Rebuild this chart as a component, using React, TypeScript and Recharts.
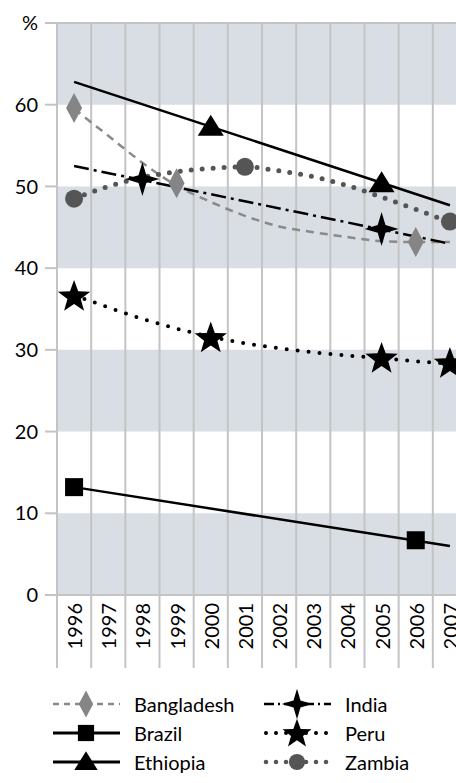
import React from 'react';
import {
  LineChart,
  Line,
  XAxis,
  YAxis,
  ReferenceArea,
  ReferenceLine,
} from 'recharts';

const years = [1996, 1997, 1998, 1999, 2000, 2001, 2002, 2003, 2004, 2005, 2006, 2007];
const yTicks = [0, 10, 20, 30, 40, 50, 60, 70];

// fitted trend lines
const bangladeshTrend = [59.5, 56.2, 52.9, 50.1, 48.1, 46.4, 45.1, 44.4, 43.8, 43.3, 43.2, 43.2];
const brazilTrend = [13.2, null, null, null, null, null, null, null, null, null, null, 6.0];
const ethiopiaTrend = [62.8, null, null, null, null, null, null, null, null, null, null, 47.7];
const indiaTrend = [52.5, null, null, null, null, null, null, null, null, null, null, 43.0];
const peruTrend = [36.7, 35.2, 33.8, 32.6, 31.6, 30.8, 30.2, 29.7, 29.3, 29.0, 28.6, 28.3];
const zambiaTrend = [48.5, 50.0, 51.1, 51.8, 52.2, 52.4, 51.9, 51.2, 50.1, 48.7, 47.2, 45.6];

// survey points
const bangladeshPts = [59.6, null, null, 50.4, null, null, null, null, null, null, 43.2, null];
const brazilPts = [13.2, null, null, null, null, null, null, null, null, null, 6.7, null];
const ethiopiaPts = [null, null, null, null, 57.3, null, null, null, null, 50.4, null, null];
const indiaPts = [null, null, 50.9, null, null, null, null, null, null, 44.8, null, null];
const peruPts = [36.6, null, null, null, 31.5, null, null, null, null, 29.0, null, 28.4];
const zambiaPts = [48.5, null, null, null, null, 52.4, null, null, null, null, null, 45.7];

const FONT = 'Lato, "Open Sans", sans-serif';
const GRID = '#c4c4c4';
const BAND = '#d8dee4';
const CHART_W = 467;
const CHART_H = 680;
const Y_W = 57;
const BW = (CHART_W - Y_W) / years.length;

const data = years.map((year, i) => ({
  year,
  bgdTrend: bangladeshTrend[i],
  braTrend: brazilTrend[i],
  ethTrend: ethiopiaTrend[i],
  indTrend: indiaTrend[i],
  perTrend: peruTrend[i],
  zmbTrend: zambiaTrend[i],
  bgd: bangladeshPts[i],
  bra: brazilPts[i],
  eth: ethiopiaPts[i],
  ind: indiaPts[i],
  per: peruPts[i],
  zmb: zambiaPts[i],
}));

const star = (cx: number, cy: number, n: number, outer: number, inner: number) => {
  const pts: string[] = [];
  for (let k = 0; k < n * 2; k++) {
    const r = k % 2 === 0 ? outer : inner;
    const a = -Math.PI / 2 + (k * Math.PI) / n;
    pts.push(`${cx + r * Math.cos(a)},${cy + r * Math.sin(a)}`);
  }
  return pts.join(' ');
};

const Marker = ({ kind, cx, cy, s = 1 }: { kind: string; cx: number; cy: number; s?: number }) => {
  switch (kind) {
    case 'diamond':
      return (
        <polygon
          points={`${cx},${cy - 15 * s} ${cx + 8 * s},${cy} ${cx},${cy + 15 * s} ${cx - 8 * s},${cy}`}
          fill="#858585"
        />
      );
    case 'square':
      return <rect x={cx - 9 * s} y={cy - 9 * s} width={18 * s} height={18 * s} fill="#000" />;
    case 'triangle':
      return (
        <polygon
          points={`${cx},${cy - 12 * s} ${cx + 13 * s},${cy + 9 * s} ${cx - 13 * s},${cy + 9 * s}`}
          fill="#000"
        />
      );
    case 'star4':
      return <polygon points={star(cx, cy, 4, 17 * s, 5.5 * s)} fill="#000" />;
    case 'star5':
      return <polygon points={star(cx, cy + 1, 5, 17 * s, 7 * s)} fill="#000" />;
    default:
      return <circle cx={cx} cy={cy} r={9 * s} fill="#555" />;
  }
};

const dotOf = (kind: string) => (props: any) => {
  const { cx, cy, value, index } = props;
  if (value == null || cy == null || Number.isNaN(cy)) return <g key={`e-${kind}-${index}`} />;
  return (
    <g key={`m-${kind}-${index}`}>
      <Marker kind={kind} cx={cx} cy={cy} />
    </g>
  );
};

const YearTick = (props: any) => {
  const { x, y, payload } = props;
  const ty = y + 8;
  return (
    <g>
      <line x1={x - BW / 2} x2={x - BW / 2} y1={y} y2={y + 73} stroke={GRID} strokeWidth={2} />
      <text
        x={x}
        y={ty}
        transform={`rotate(-90 ${x} ${ty})`}
        textAnchor="end"
        dominantBaseline="central"
        fontSize={20}
        fontFamily={FONT}
        fill="#000"
      >
        {payload.value}
      </text>
    </g>
  );
};

const legendItems = [
  { name: 'Bangladesh', kind: 'diamond', stroke: '#8a8a8a', width: 2.5, dash: '6 5', cap: 'butt' },
  { name: 'India', kind: 'star4', stroke: '#000', width: 2.5, dash: '10 4 2 4', cap: 'butt' },
  { name: 'Brazil', kind: 'square', stroke: '#000', width: 3, dash: undefined, cap: 'butt' },
  { name: 'Peru', kind: 'star5', stroke: '#000', width: 4, dash: '0 10', cap: 'round' },
  { name: 'Ethiopia', kind: 'triangle', stroke: '#000', width: 3, dash: undefined, cap: 'butt' },
  { name: 'Zambia', kind: 'circle', stroke: '#555', width: 4.5, dash: '0 10', cap: 'round' },
];

const Legend = () => (
  <svg width={456} height={103} style={{ position: 'absolute', left: 0, top: 680 }}>
    {legendItems.map((it, i) => {
      const col = i % 2;
      const row = Math.floor(i / 2);
      const x0 = col === 0 ? 53 : 264;
      const cy = 24 + row * 29;
      return (
        <g key={it.name}>
          <line
            x1={x0 + (it.cap === 'round' ? 2 : 0)}
            x2={x0 + 67}
            y1={cy}
            y2={cy}
            stroke={it.stroke}
            strokeWidth={it.width}
            strokeDasharray={it.dash}
            strokeLinecap={it.cap as any}
          />
          <Marker kind={it.kind} cx={x0 + 33} cy={cy} s={0.9} />
          <text x={x0 + 81} y={cy} dominantBaseline="central" fontSize={20} fontFamily={FONT} fill="#000">
            {it.name}
          </text>
        </g>
      );
    })}
  </svg>
);

export default function App() {
  return (
    <div style={{ position: 'relative', width: 456, height: 783, overflow: 'hidden', background: '#fff' }}>
      <style>{'body{margin:0}'}</style>
      <LineChart
        width={CHART_W}
        height={CHART_H}
        data={data}
        margin={{ top: 23, right: 0, left: 0, bottom: 0 }}
      >
        <ReferenceArea y1={0} y2={10} fill={BAND} fillOpacity={1} stroke="none" />
        <ReferenceArea y1={20} y2={30} fill={BAND} fillOpacity={1} stroke="none" />
        <ReferenceArea y1={40} y2={50} fill={BAND} fillOpacity={1} stroke="none" />
        <ReferenceArea y1={60} y2={70} fill={BAND} fillOpacity={1} stroke="none" />
        {years.slice(0, -1).map((yr) => (
          <ReferenceLine key={yr} x={yr + 0.5} stroke={GRID} strokeWidth={2} />
        ))}
        <ReferenceLine y={70} stroke={GRID} strokeWidth={2} />
        <XAxis
          dataKey="year"
          type="number"
          domain={[1995.5, 2007.5]}
          ticks={years}
          interval={0}
          height={CHART_H - 595}
          tickSize={0}
          tickMargin={0}
          tickLine={false}
          axisLine={{ stroke: GRID, strokeWidth: 2 }}
          tick={<YearTick />}
        />
        <YAxis
          type="number"
          domain={[0, 70]}
          ticks={yTicks}
          interval={0}
          width={Y_W}
          tickSize={12}
          tickMargin={7}
          tickLine={{ stroke: GRID, strokeWidth: 2 }}
          axisLine={{ stroke: GRID, strokeWidth: 2 }}
          tick={{ fill: '#000', fontSize: 20, fontFamily: FONT }}
          tickFormatter={(v: number) => (v === 70 ? '%' : String(v))}
        />

        <Line dataKey="bgdTrend" type="monotone" stroke="#8a8a8a" strokeWidth={2.5} strokeDasharray="8 6" dot={false} activeDot={false} isAnimationActive={false} />
        <Line dataKey="zmbTrend" type="monotone" stroke="#555" strokeWidth={5} strokeDasharray="0 11" strokeLinecap="round" dot={false} activeDot={false} isAnimationActive={false} />
        <Line dataKey="perTrend" type="monotone" stroke="#000" strokeWidth={4} strokeDasharray="0 11" strokeLinecap="round" dot={false} activeDot={false} isAnimationActive={false} />
        <Line dataKey="indTrend" type="linear" connectNulls stroke="#000" strokeWidth={2.5} strokeDasharray="15 5 3 5" dot={false} activeDot={false} isAnimationActive={false} />
        <Line dataKey="ethTrend" type="linear" connectNulls stroke="#000" strokeWidth={2.5} dot={false} activeDot={false} isAnimationActive={false} />
        <Line dataKey="braTrend" type="linear" connectNulls stroke="#000" strokeWidth={2.5} dot={false} activeDot={false} isAnimationActive={false} />

        <Line dataKey="bgd" stroke="none" dot={dotOf('diamond')} activeDot={false} isAnimationActive={false} />
        <Line dataKey="zmb" stroke="none" dot={dotOf('circle')} activeDot={false} isAnimationActive={false} />
        <Line dataKey="per" stroke="none" dot={dotOf('star5')} activeDot={false} isAnimationActive={false} />
        <Line dataKey="ind" stroke="none" dot={dotOf('star4')} activeDot={false} isAnimationActive={false} />
        <Line dataKey="eth" stroke="none" dot={dotOf('triangle')} activeDot={false} isAnimationActive={false} />
        <Line dataKey="bra" stroke="none" dot={dotOf('square')} activeDot={false} isAnimationActive={false} />
      </LineChart>
      <Legend />
    </div>
  );
}
